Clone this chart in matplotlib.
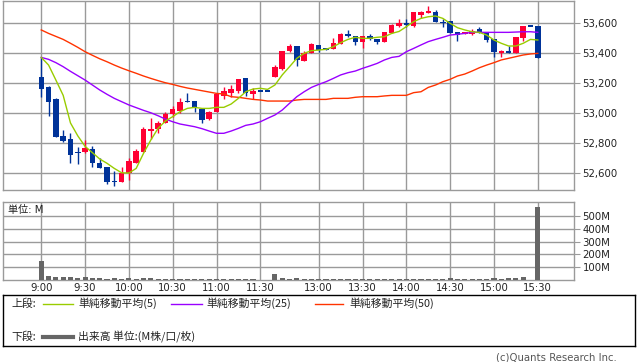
import numpy as np
import matplotlib
matplotlib.use("Agg")
import matplotlib.pyplot as plt

plt.rcParams['font.family'] = ['DejaVu Sans', 'Noto Sans CJK JP']

# ── Data (5-minute bars, slot index along the session) ──────────
open_ = [53240, 53176, 53093, 52849, 52829, 52742, 52744, 52762, 52669, 52644,
         52547, 52544, 52604, 52671, 52744, 52884, 52893, 52933, 52996, 53018,
         53080, 53082, 53031, 52963, 53011, 53118, 53138, 53151, 53233, 53131,
         53149, 53149, 53244, 53296, 53418, 53451, 53351, 53404, 53456, 53431,
         53427, 53460, 53531, 53516, 53473, 53516, 53493, 53478, 53533, 53582,
         53597, 53584, 53656, 53667, 53673, 53606, 53616, 53544, 53529, 53529,
         53562, 53533, 53496, 53400, 53416, 53400, 53500, 53582, 53582]
high = [53373, 53180, 53104, 52889, 52867, 52778, 52822, 52782, 52700, 52644,
        52616, 52644, 52702, 52762, 52907, 52969, 52951, 53011, 53049, 53100,
        53133, 53082, 53031, 53018, 53133, 53178, 53189, 53229, 53233, 53167,
        53149, 53149, 53322, 53418, 53460, 53451, 53416, 53471, 53456, 53433,
        53500, 53533, 53556, 53516, 53516, 53529, 53493, 53544, 53593, 53629,
        53629, 53678, 53680, 53716, 53689, 53629, 53616, 53544, 53544, 53562,
        53578, 53544, 53496, 53422, 53449, 53507, 53582, 53582, 53582]
low = [53111, 52982, 52844, 52811, 52667, 52662, 52733, 52644, 52636, 52529,
       52518, 52544, 52556, 52671, 52744, 52831, 52867, 52933, 52973, 53000,
       53076, 53011, 52938, 52956, 53011, 53093, 53111, 53133, 53118, 53093,
       53149, 53149, 53244, 53289, 53411, 53318, 53351, 53404, 53411, 53420,
       53427, 53460, 53511, 53456, 53438, 53489, 53462, 53478, 53533, 53578,
       53578, 53578, 53638, 53667, 53611, 53573, 53538, 53484, 53527, 53522,
       53536, 53478, 53378, 53378, 53400, 53400, 53484, 53582, 53371]
close = [53165, 53078, 52844, 52818, 52725, 52738, 52771, 52671, 52638, 52544,
         52542, 52604, 52682, 52749, 52893, 52898, 52938, 52996, 53027, 53078,
         53076, 53038, 52958, 53010, 53129, 53150, 53160, 53229, 53138, 53149,
         53149, 53149, 53311, 53418, 53451, 53356, 53404, 53462, 53422, 53429,
         53471, 53527, 53516, 53478, 53516, 53498, 53473, 53542, 53589, 53600,
         53595, 53673, 53678, 53682, 53611, 53604, 53538, 53522, 53544, 53551,
         53538, 53489, 53407, 53416, 53400, 53507, 53582, 53582, 53371]

ma5 = [53373, 53322, 53222, 53120, 52936, 52850, 52780, 52738, 52696, 52667,
       52633, 52604, 52602, 52633, 52733, 52822, 52900, 52949, 52978, 53011,
       53033, 53040, 53033, 53033, 53040, 53040, 53062, 53100, 53144, 53162,
       53167, 53160, 53189, 53256, 53311, 53367, 53400, 53418, 53422, 53427,
       53444, 53471, 53493, 53507, 53500, 53500, 53507, 53511, 53533, 53546,
       53578, 53611, 53633, 53644, 53649, 53633, 53600, 53571, 53556, 53544,
       53540, 53522, 53489, 53467, 53449, 53449, 53467, 53493, 53489]
ma25 = [53373, 53360, 53338, 53311, 53280, 53251, 53222, 53189, 53156, 53127,
        53100, 53078, 53056, 53038, 53020, 53004, 52984, 52962, 52944, 52929,
        52920, 52911, 52898, 52882, 52867, 52867, 52882, 52900, 52920, 52929,
        52944, 52967, 52989, 53022, 53067, 53111, 53144, 53173, 53193, 53211,
        53233, 53256, 53271, 53282, 53300, 53316, 53333, 53356, 53373, 53380,
        53411, 53433, 53456, 53478, 53493, 53507, 53522, 53527, 53533, 53540,
        53540, 53540, 53540, 53540, 53540, 53542, 53544, 53544, 53540]
ma50 = [53556, 53533, 53513, 53493, 53467, 53440, 53411, 53387, 53364, 53344,
        53322, 53302, 53284, 53267, 53249, 53233, 53218, 53204, 53193, 53180,
        53169, 53160, 53151, 53142, 53133, 53129, 53111, 53107, 53100, 53093,
        53089, 53082, 53082, 53082, 53082, 53089, 53093, 53093, 53093, 53093,
        53100, 53100, 53100, 53107, 53111, 53111, 53111, 53116, 53120, 53120,
        53120, 53138, 53144, 53173, 53189, 53211, 53227, 53249, 53262, 53282,
        53304, 53322, 53338, 53356, 53367, 53378, 53389, 53396, 53400]

volume = [150, 34, 26, 26, 26, 18, 26, 18, 18, 10,
          18, 10, 18, 10, 18, 18, 10, 10, 10, 10,
          10, 10, 10, 10, 10, 10, 10, 10, 10, 10,
          3, 0, 47, 18, 10, 18, 10, 10, 10, 10,
          10, 10, 10, 10, 10, 10, 10, 10, 10, 10,
          10, 10, 10, 10, 10, 10, 18, 10, 10, 10,
          10, 10, 18, 10, 18, 18, 26, 0, 571]

tick_slots = [0, 6, 12, 18, 24, 30, 38, 44, 50, 56, 62, 68]
tick_labels = ["9:00", "9:30", "10:00", "10:30", "11:00", "11:30",
               "13:00", "13:30", "14:00", "14:30", "15:00", "15:30"]
price_ticks = [52600, 52800, 53000, 53200, 53400, 53600]
vol_ticks = [100, 200, 300, 400, 500]

# ── Styles ──────────────────────────────────────────────────────
UP = "#ff0033"
DOWN = "#003399"
GRID = "#9a9a9a"
C_MA5 = "#99cc00"
C_MA25 = "#9900ff"
C_MA50 = "#ff3300"
W, H = 638, 362

def frac(x0, y0, x1, y1):
    return [x0 / W, 1 - y1 / H, (x1 - x0) / W, (y1 - y0) / H]

fig = plt.figure(figsize=(W / 100, H / 100), dpi=100)
fig.patch.set_facecolor("white")

ax = fig.add_axes(frac(3.3, 1, 574.3, 190))
axv = fig.add_axes(frac(3.3, 201.7, 574.3, 280.3))

x = np.arange(len(close))
o = np.array(open_, float)
c = np.array(close, float)
up = c > o
colors = np.where(up, UP, DOWN)
body = np.abs(c - o)
hgt = np.maximum(body, 10)
bottom = np.minimum(o, c) - (hgt - body) / 2

ax.vlines(x, low, high, colors=colors, linewidth=1.0, zorder=3)
ax.bar(x, hgt, bottom=bottom, width=0.75, color=colors, linewidth=0, zorder=4)

ax.plot(x, ma50, color=C_MA50, linewidth=1.0, zorder=5)
ax.plot(x, ma25, color=C_MA25, linewidth=1.0, zorder=5)
ax.plot(x, ma5, color=C_MA5, linewidth=1.0, zorder=6)

XL = (-5.2, 73.0)
for a in (ax, axv):
    a.set_xlim(*XL)
    a.set_xticks(tick_slots)
    a.grid(True, color=GRID, linewidth=1.0)
    a.set_axisbelow(True)
    for s in a.spines.values():
        s.set_color(GRID)
        s.set_linewidth(1.0)
    a.yaxis.tick_right()
    a.tick_params(axis="y", length=4, color=GRID, labelsize=7.3, pad=2,
                  labelcolor="#222222")
    a.tick_params(axis="x", length=0)

ax.set_ylim(52489, 53749)
ax.set_yticks(price_ticks)
ax.set_yticklabels([f"{p:,}" for p in price_ticks])
ax.set_xticklabels([])

axv.bar(x, volume, width=0.7, color="#666666", linewidth=0, zorder=3)
axv.set_ylim(0, 609)
axv.set_yticks(vol_ticks)
axv.set_yticklabels([f"{v}M" for v in vol_ticks])
axv.set_xticklabels(tick_labels)
axv.tick_params(axis="x", labelsize=7.3, pad=2, labelcolor="#222222")
axv.text(0.008, 0.9, "単位: M", transform=axv.transAxes, fontsize=7.3,
         ha="left", va="center", color="#222222")

# ── Legend box ──────────────────────────────────────────────────
axl = fig.add_axes(frac(3.3, 295, 635, 346))
axl.set_xlim(3.3, 635)
axl.set_ylim(346, 295)
axl.set_xticks([])
axl.set_yticks([])
for s in axl.spines.values():
    s.set_color("black")
    s.set_linewidth(1.0)

LF = dict(fontsize=7.8, va="center", ha="left", color="#222222",
          family=['Noto Sans CJK JP', 'DejaVu Sans'])
axl.text(11, 303.5, "上段:", **LF)
axl.plot([43, 73], [303.5, 303.5], color=C_MA5, linewidth=1.0)
axl.text(78, 303.5, "単純移動平均(5)", **LF)
axl.plot([171, 202], [303.5, 303.5], color=C_MA25, linewidth=1.0)
axl.text(206, 303.5, "単純移動平均(25)", **LF)
axl.plot([315, 343], [303.5, 303.5], color=C_MA50, linewidth=1.0)
axl.text(349, 303.5, "単純移動平均(50)", **LF)
axl.text(11, 337, "下段:", **LF)
axl.plot([43, 73], [337, 337], color="#666666", linewidth=3.0)
axl.text(78, 337, "出来高 単位:(M株/口/枚)", **LF)

fig.text(617 / W, 1 - 357 / H, "(c)Quants Research Inc.", fontsize=7.3,
         ha="right", va="center", color="#555555")

fig.savefig("out.png", dpi=100)
